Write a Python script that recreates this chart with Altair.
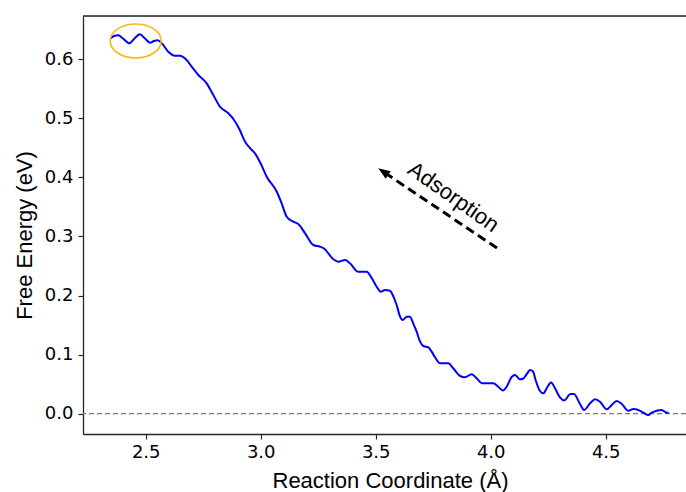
import altair as alt
import pandas as pd

# Free energy profile
rc = [2.348, 2.362, 2.381, 2.401, 2.429, 2.449, 2.475, 2.497, 2.519, 2.536,
      2.552, 2.570, 2.598, 2.627, 2.649, 2.678, 2.701, 2.729, 2.765, 2.794,
      2.823, 2.859, 2.881, 2.907, 2.932, 2.953, 2.975, 3.001, 3.026, 3.070,
      3.091, 3.113, 3.142, 3.163, 3.193, 3.229, 3.258, 3.275, 3.316, 3.337,
      3.367, 3.388, 3.424, 3.461, 3.483, 3.504, 3.522, 3.540, 3.562, 3.577,
      3.591, 3.606, 3.617, 3.635, 3.649, 3.663, 3.678, 3.693, 3.707, 3.729,
      3.743, 3.758, 3.780, 3.816, 3.837, 3.867, 3.888, 3.917, 3.939, 3.961,
      4.011, 4.033, 4.053, 4.070, 4.091, 4.106, 4.127, 4.142, 4.157, 4.171,
      4.184, 4.195, 4.214, 4.229, 4.245, 4.262, 4.280, 4.301, 4.319, 4.347,
      4.362, 4.388, 4.406, 4.432, 4.454, 4.475, 4.504, 4.526, 4.548, 4.570,
      4.598, 4.620, 4.642, 4.664, 4.685, 4.700, 4.722, 4.743, 4.765, 4.774]
energy = [0.6355, 0.6394, 0.6406, 0.6352, 0.6271, 0.6343, 0.6423, 0.6352, 0.6281, 0.6309,
          0.6321, 0.6271, 0.6128, 0.6061, 0.6061, 0.5988, 0.5869, 0.5734, 0.5593, 0.5395,
          0.5197, 0.5086, 0.4989, 0.4820, 0.4605, 0.4498, 0.4408, 0.4227, 0.4012, 0.3758,
          0.3562, 0.3335, 0.3250, 0.3211, 0.3054, 0.2856, 0.2827, 0.2797, 0.2614, 0.2573,
          0.2602, 0.2546, 0.2404, 0.2404, 0.2292, 0.2150, 0.2065, 0.2094, 0.2082, 0.1981,
          0.1840, 0.1642, 0.1586, 0.1642, 0.1642, 0.1530, 0.1388, 0.1219, 0.1146, 0.1124,
          0.1050, 0.0955, 0.0853, 0.0853, 0.0769, 0.0638, 0.0616, 0.0667, 0.0599, 0.0515,
          0.0515, 0.0457, 0.0393, 0.0460, 0.0621, 0.0655, 0.0582, 0.0596, 0.0672, 0.0740,
          0.0714, 0.0571, 0.0384, 0.0345, 0.0444, 0.0528, 0.0427, 0.0274, 0.0223, 0.0334,
          0.0334, 0.0164, 0.0063, 0.0176, 0.0244, 0.0203, 0.0074, 0.0147, 0.0215, 0.0164,
          0.0051, 0.0080, 0.0063, 0.0017, -0.0022, 0.0017, 0.0051, 0.0063, 0.0017, 0.0017]

x_ticks = [2.5, 3.0, 3.5, 4.0, 4.5]
y_ticks = [0.0, 0.1, 0.2, 0.3, 0.4, 0.5, 0.6]
x_domain = [2.2274, 4.849]
y_domain = [-0.0344, 0.6733]

# annotations (data coordinates)
arrow_x = [4.040, 3.540]
arrow_y = [0.277, 0.4078]
head_x = [3.511]
head_y = [0.4154]
label_x = [3.838]
label_y = [0.3668]
label_text = ["Adsorption"]
ellipse_x = [2.4565]
ellipse_y = [0.631]
zero_level = [0.0]

W, H = 603, 418
SPINE = "#262626"

curve_df = pd.DataFrame({"x": rc, "y": energy})

X = alt.X("x:Q", scale=alt.Scale(domain=x_domain, nice=False, zero=False),
          axis=alt.Axis(values=x_ticks, format=".1f", title="Reaction Coordinate (Å)",
                        labelFont="DejaVu Sans", labelFontSize=18, labelColor="black",
                        labelPadding=4, labelFlush=False, labelOverlap=False,
                        tickColor=SPINE, tickSize=5, tickWidth=1.2,
                        domainColor=SPINE, domainWidth=1.3, grid=False,
                        titleFont="Liberation Sans", titleFontSize=22,
                        titleFontWeight="normal", titleColor="black",
                        titleX=307, titleY=53, titleBaseline="alphabetic",
                        titleAlign="center"))
Y = alt.Y("y:Q", scale=alt.Scale(domain=y_domain, nice=False, zero=False),
          axis=alt.Axis(values=y_ticks, format=".1f", title="Free Energy (eV)",
                        labelFont="DejaVu Sans", labelFontSize=18, labelColor="black",
                        labelPadding=5, labelFlush=False, labelOverlap=False,
                        tickColor=SPINE, tickSize=5, tickWidth=1.2,
                        domainColor=SPINE, domainWidth=1.3, grid=False,
                        titleFont="Liberation Sans", titleFontSize=22,
                        titleFontWeight="normal", titleColor="black",
                        titleX=-52, titleY=219, titleAngle=270,
                        titleBaseline="alphabetic", titleAlign="center"))

zero = alt.Chart(pd.DataFrame({"y": zero_level})).mark_rule(
    color="#7a7a7a", strokeWidth=1.2, strokeDash=[5, 3]).encode(y=Y)

curve = alt.Chart(curve_df).mark_line(
    color="#0000ff", strokeWidth=2, interpolate="monotone").encode(x=X, y=Y)

arrow = alt.Chart(pd.DataFrame({"x": arrow_x, "y": arrow_y})).mark_line(
    color="black", strokeWidth=3, strokeDash=[9, 5]).encode(x=X, y=Y)

head = alt.Chart(pd.DataFrame({"x": head_x, "y": head_y})).mark_point(
    shape="M0,0 L0.45,1.2 L-0.45,1.2 Z", size=400, filled=True, color="black",
    opacity=1, angle=304).encode(x=X, y=Y)

label = alt.Chart(pd.DataFrame({"x": label_x, "y": label_y, "t": label_text})).mark_text(
    font="Liberation Sans", fontSize=22, color="black", angle=35,
    align="center", baseline="middle").encode(x=X, y=Y, text="t:N")

ellipse = alt.Chart(pd.DataFrame({"x": ellipse_x, "y": ellipse_y})).mark_point(
    shape="M-1,0 A1,0.667 0 1,1 1,0 A1,0.667 0 1,1 -1,0 Z", size=2601,
    filled=False, stroke="#FBB514", strokeWidth=1.6, opacity=1).encode(x=X, y=Y)

top_spine = alt.Chart(pd.DataFrame({"a": [0]})).mark_rule(
    color=SPINE, strokeWidth=1.3).encode(
    x=alt.value(0), x2=alt.value(W), y=alt.value(0))

chart = alt.layer(zero, curve, arrow, head, label, ellipse, top_spine).properties(
    width=W, height=H,
    autosize=alt.AutoSizeParams(type="none"),
    padding={"left": 83, "top": 16, "right": 0, "bottom": 58},
).configure_view(stroke=None).configure(background="white")

chart.save("out.html", embed_options={"renderer": "svg", "actions": False})
